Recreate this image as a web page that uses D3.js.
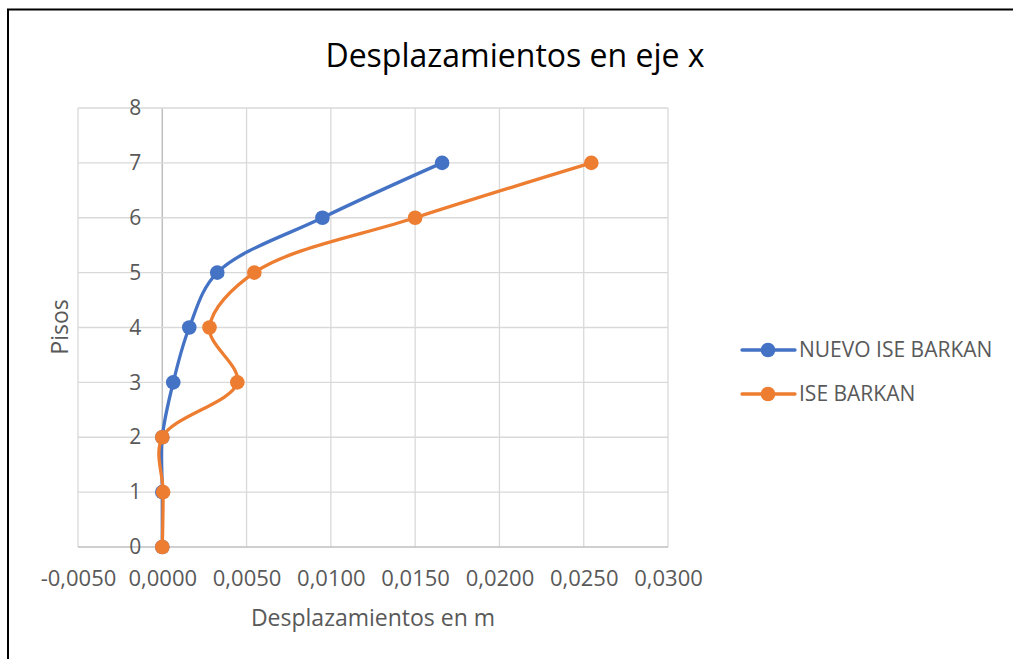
<!DOCTYPE html>
<html><head><meta charset="utf-8">
<script src="https://cdn.jsdelivr.net/npm/d3@7"></script>
<style>body{margin:0;background:#fff}svg{display:block}</style>
</head><body>
<script>
const pisos = [0,1,2,3,4,5,6,7];
const nuevoIse = [0.0000,0.0000,0.0000,0.00065,0.0016,0.00326,0.0095,0.0166];
const iseBarkan = [0.0000,0.00005,0.0000,0.00445,0.0028,0.00546,0.0150,0.02545];
const xTicks = [-0.005,0,0.005,0.010,0.015,0.020,0.025,0.030];
const yTicks = [0,1,2,3,4,5,6,7,8];
const seriesNames = ["NUEVO ISE BARKAN","ISE BARKAN"];
const colors = ["#4472c4","#ed7d31"];

const W=1013,H=659;
const svg=d3.select("body").append("svg").attr("width",W).attr("height",H);
svg.append("rect").attr("width",W).attr("height",H).attr("fill","#fff");
svg.append("path").attr("d","M8,659V9.5H1013").attr("fill","none").attr("stroke","#000").attr("stroke-width",2);

const x=d3.scaleLinear().domain([-0.005,0.030]).range([78,668]);
const y=d3.scaleLinear().domain([0,8]).range([547,108]);
const font="'Open Sans', Calibri, sans-serif";

// gridlines
svg.append("g").selectAll("line").data(xTicks).join("line")
  .attr("x1",d=>x(d)).attr("x2",d=>x(d)).attr("y1",y(0)).attr("y2",y(8))
  .attr("stroke",d=>d===0?"#bfbfbf":"#d9d9d9").attr("stroke-width",d=>d===0?1.5:1.3);
svg.append("g").selectAll("line").data(yTicks).join("line")
  .attr("x1",x(-0.005)).attr("x2",x(0.030)).attr("y1",d=>y(d)).attr("y2",d=>y(d))
  .attr("stroke",d=>d===0?"#bfbfbf":"#d9d9d9").attr("stroke-width",d=>d===0?1.5:1.3);

// axes labels via d3 axes
const fmt=d=>d3.format(".4f")(d).replace(".",",").replace("−","-");
const ax=svg.append("g").attr("transform",`translate(0,${y(0)})`)
  .call(d3.axisBottom(x).tickValues(xTicks).tickFormat(fmt).tickSize(0).tickPadding(23));
ax.select(".domain").remove();
ax.selectAll("text").style("font-family",font).style("font-size","22px").attr("fill","#595959");
const ay=svg.append("g").attr("transform",`translate(${x(0)},0)`)
  .call(d3.axisLeft(y).tickValues(yTicks).tickFormat(d3.format("d")).tickSize(0).tickPadding(21));
ay.select(".domain").remove();
ay.selectAll("text").style("font-family",font).style("font-size","21px").attr("fill","#595959");

// titles
svg.append("text").attr("x",515).attr("y",67).attr("text-anchor","middle")
  .style("font-family",font).style("font-size","32px").attr("fill","#000").text("Desplazamientos en eje x");
svg.append("text").attr("x",373).attr("y",626).attr("text-anchor","middle")
  .style("font-family",font).style("font-size","23px").attr("fill","#595959").text("Desplazamientos en m");
svg.append("text").attr("transform","translate(68,327) rotate(-90)").attr("text-anchor","middle")
  .style("font-family",font).style("font-size","23px").attr("fill","#595959").text("Pisos");

// series
const series=[nuevoIse,iseBarkan];
const line=d3.line().x(d=>x(d[0])).y(d=>y(d[1])).curve(d3.curveCatmullRom.alpha(0.5));
series.forEach((vals,i)=>{
  const pts=vals.map((v,k)=>[v,pisos[k]]);
  const g=svg.append("g");
  g.append("path").attr("d",line(pts)).attr("fill","none").attr("stroke",colors[i]).attr("stroke-width",3.3).attr("stroke-linecap","round");
  g.selectAll("circle").data(pts).join("circle").attr("cx",d=>x(d[0])).attr("cy",d=>y(d[1])).attr("r",7.3).attr("fill",colors[i]);
});

// legend
seriesNames.forEach((n,i)=>{
  const ly=350+i*44;
  const g=svg.append("g");
  g.append("line").attr("x1",742).attr("x2",795).attr("y1",ly).attr("y2",ly).attr("stroke",colors[i]).attr("stroke-width",3.3).attr("stroke-linecap","round");
  g.append("circle").attr("cx",768).attr("cy",ly).attr("r",7.3).attr("fill",colors[i]);
  g.append("text").attr("x",799).attr("y",ly+7).style("font-family",font).style("font-size","21px").attr("fill","#595959").text(n);
});
</script>
</body></html>
